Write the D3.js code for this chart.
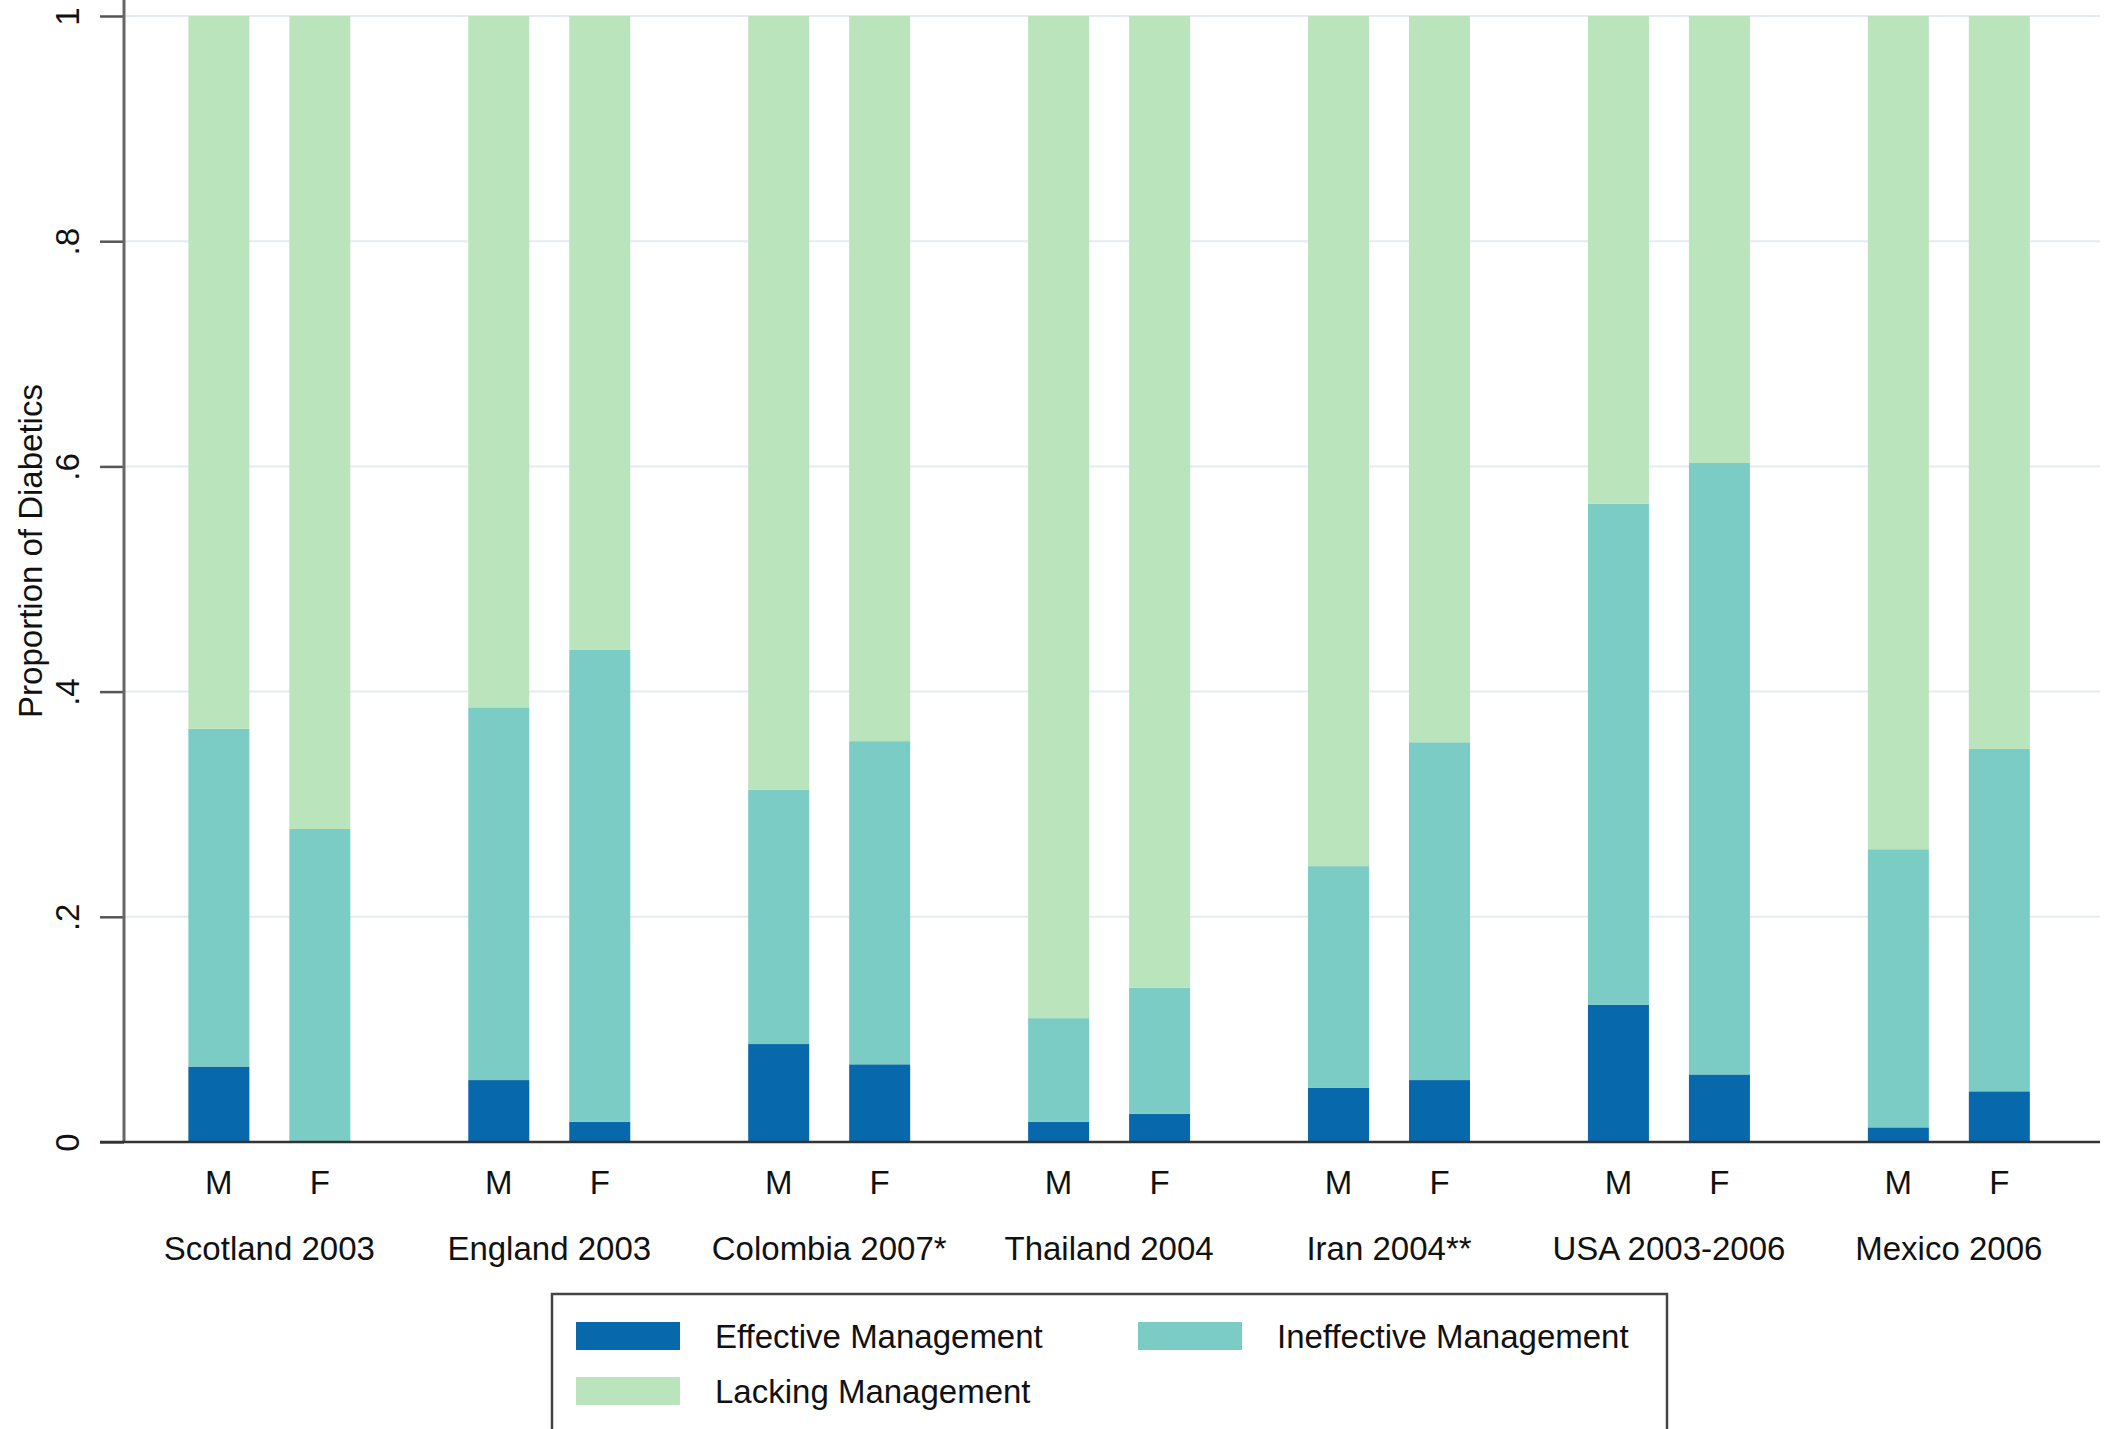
<!DOCTYPE html>
<html>
<head>
<meta charset="utf-8">
<script src="https://cdn.jsdelivr.net/npm/d3@7"></script>
<style>
  html, body { margin: 0; padding: 0; background: #fff; }
  svg { display: block; font-family: "Liberation Sans", Arial, sans-serif; }
</style>
</head>
<body>
<svg id="chart" width="2111" height="1429"></svg>
<script>
// Data
const countries = ["Scotland 2003", "England 2003", "Colombia 2007*", "Thailand 2004",
                   "Iran 2004**", "USA 2003-2006", "Mexico 2006"];
const sexes = ["M", "F"];
// values per country, [M, F]
const effective   = [[0.067, 0.000], [0.055, 0.018], [0.087, 0.069], [0.018, 0.025],
                     [0.048, 0.055], [0.122, 0.060], [0.013, 0.045]];
const ineffective = [[0.300, 0.278], [0.331, 0.419], [0.226, 0.287], [0.092, 0.112],
                     [0.197, 0.300], [0.445, 0.543], [0.247, 0.304]];
const lacking     = [[0.633, 0.722], [0.614, 0.563], [0.687, 0.644], [0.890, 0.863],
                     [0.755, 0.645], [0.433, 0.397], [0.740, 0.651]];
const seriesKeys  = ["eff", "ineff", "lack"];
const seriesNames = ["Effective Management", "Ineffective Management", "Lacking Management"];
const yTicks = [0, 0.2, 0.4, 0.6, 0.8, 1];

const COLORS = { eff: "#0868ac", ineff: "#7bccc4", lack: "#bae4bc" };
const FONT = 33;

const svg = d3.select("#chart");

const plot = { left: 124, right: 2100, top: 16, bottom: 1142 };

// rows for stacking
const rows = [];
countries.forEach((c, i) => {
    sexes.forEach((s, j) => {
        rows.push({ country: c, sex: s,
            eff: effective[i][j], ineff: ineffective[i][j], lack: lacking[i][j] });
    });
});

const y = d3.scaleLinear().domain([0, 1]).range([plot.bottom, plot.top]);
const xGroup = d3.scaleBand().domain(countries).range([129.4, 2088.8]).padding(0);
const xSex = d3.scaleBand().domain(sexes).range([0, xGroup.bandwidth()])
    .paddingInner(0.396).paddingOuter(0.584);

// grid lines
svg.append("g").selectAll("line")
    .data(yTicks.filter(t => t > 0))
    .enter().append("line")
    .attr("x1", plot.left).attr("x2", plot.right)
    .attr("y1", d => y(d)).attr("y2", d => y(d))
    .attr("stroke", "#e2ecf2").attr("stroke-width", 2);

// bars
const stacked = d3.stack().keys(seriesKeys)(rows);
svg.append("g").selectAll("g")
    .data(stacked)
    .enter().append("g")
    .attr("fill", d => COLORS[d.key])
    .selectAll("rect")
    .data(d => d)
    .enter().append("rect")
    .attr("x", d => xGroup(d.data.country) + xSex(d.data.sex))
    .attr("width", xSex.bandwidth())
    .attr("y", d => y(d[1]))
    .attr("height", d => y(d[0]) - y(d[1]));

// y axis
const yAxis = d3.axisLeft(y).tickValues(yTicks)
    .tickFormat(d => d === 0 ? "0" : d === 1 ? "1" : d3.format(".1f")(d).replace(/^0/, ""))
    .tickSize(24).tickPadding(0);
const yG = svg.append("g").attr("transform", "translate(" + plot.left + ",0)").call(yAxis);
yG.select(".domain").remove();
yG.selectAll(".tick line").attr("stroke", "#555").attr("stroke-width", 2.5);
yG.selectAll(".tick text")
    .attr("x", null).attr("dy", null)
    .attr("text-anchor", "middle")
    .attr("font-size", FONT).attr("fill", "#111")
    .attr("transform", "translate(-57,0) rotate(-90)")
    .attr("dominant-baseline", "central");
svg.append("line")
    .attr("x1", plot.left).attr("x2", plot.left)
    .attr("y1", 0).attr("y2", plot.bottom)
    .attr("stroke", "#666").attr("stroke-width", 3);

// x axis line
svg.append("line")
    .attr("x1", 100).attr("x2", plot.right)
    .attr("y1", plot.bottom).attr("y2", plot.bottom)
    .attr("stroke", "#333").attr("stroke-width", 2.5);

// M / F labels
svg.append("g").selectAll("text")
    .data(rows)
    .enter().append("text")
    .attr("x", d => xGroup(d.country) + xSex(d.sex) + xSex.bandwidth() / 2)
    .attr("y", 1194)
    .attr("text-anchor", "middle")
    .attr("font-size", FONT).attr("fill", "#111")
    .text(d => d.sex);

// country labels
svg.append("g").selectAll("text")
    .data(countries)
    .enter().append("text")
    .attr("x", d => xGroup(d) + xGroup.bandwidth() / 2)
    .attr("y", 1260)
    .attr("text-anchor", "middle")
    .attr("font-size", FONT).attr("fill", "#111")
    .text(d => d);

// y title
svg.append("text")
    .attr("transform", "translate(30,551) rotate(-90)")
    .attr("text-anchor", "middle")
    .attr("dominant-baseline", "central")
    .attr("font-size", FONT).attr("fill", "#111")
    .text("Proportion of Diabetics");

// legend
const legend = svg.append("g");
legend.append("rect")
    .attr("x", 552).attr("y", 1294).attr("width", 1115).attr("height", 160)
    .attr("fill", "#fff").attr("stroke", "#444").attr("stroke-width", 2.5);
const legendPos = [
    { sx: 576, ty: 1336 },
    { sx: 1138, ty: 1336 },
    { sx: 576, ty: 1391 }
];
seriesKeys.forEach((k, i) => {
    const p = legendPos[i];
    legend.append("rect")
        .attr("x", p.sx).attr("y", p.ty - 14).attr("width", 104).attr("height", 28)
        .attr("fill", COLORS[k]);
    legend.append("text")
        .attr("x", p.sx + 139).attr("y", p.ty)
        .attr("dominant-baseline", "central")
        .attr("font-size", FONT).attr("fill", "#111")
        .text(seriesNames[i]);
});
</script>
</body>
</html>
